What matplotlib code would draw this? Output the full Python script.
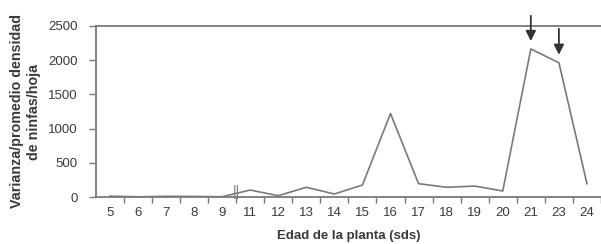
import numpy as np
import matplotlib
matplotlib.use("Agg")
import matplotlib.pyplot as plt

plt.rcParams['font.family'] = ['Liberation Sans', 'DejaVu Sans']

# edad de la planta (semanas despues de siembra) y varianza/promedio
edades = ['5', '6', '7', '8', '9', '11', '12', '13', '14', '15', '16',
          '17', '18', '19', '20', '21', '23', '24']
varianza = [12, 3, 10, 8, 4, 102, 19, 142, 44, 175, 1220,
            195, 142, 160, 88, 2164, 1963, 195]
flechas = ['21', '23']
flecha_inicio = [2690, 2500]

fig = plt.figure(figsize=(6.01, 2.44), dpi=100)
ax = fig.add_axes([95.8 / 601, 47 / 244, 1 - 95.8 / 601, 171 / 244])

x = np.arange(len(edades))
gris = '#7a7a7a'
ax.plot(x, varianza, color=gris, lw=1.2)

ax.set_ylim(0, 2500)
ax.set_xlim(-0.5, (601 - 110) / 28.41)
ax.set_yticks([0, 500, 1000, 1500, 2000, 2500])

# ticks entre categorias, etiquetas en el centro
ax.set_xticks(x + 0.5)
ax.set_xticklabels([])
ax.set_xticks(x, minor=True)
ax.set_xticklabels(edades, minor=True)
ax.tick_params(axis='x', which='major', length=4, width=1, color=gris)
ax.tick_params(axis='x', which='minor', length=0, pad=7, labelsize=9.5, labelcolor='#3a3a3a')
ax.tick_params(axis='y', length=5, width=1, color=gris, pad=8, labelsize=9.5, labelcolor='#3a3a3a')

for s in ['left', 'bottom', 'top']:
    ax.spines[s].set_color(gris)
    ax.spines[s].set_linewidth(1.3)
ax.spines['right'].set_visible(False)

# marca de corte entre 9 y 11
i9 = edades.index('9')
ax.text(i9 + 0.5, (varianza[i9] + varianza[i9 + 1]) / 2 + 15, '||', color=gris,
        ha='center', va='center', fontsize=10)

# flechas sobre los maximos
for e, y0 in zip(flechas, flecha_inicio):
    i = edades.index(e)
    ax.annotate('', xy=(i, varianza[i] + 75), xytext=(i, y0),
                arrowprops=dict(arrowstyle='-|>', mutation_scale=15, lw=1.3, color='#333333'),
                annotation_clip=False)

ax.set_ylabel('Varianza/promedio densidad\nde ninfas/hoja', fontsize=10.3,
              fontweight='bold', color='#3a3a3a', labelpad=5, linespacing=1.3)
ax.set_xlabel('Edad de la planta (sds)', fontsize=9.5, fontweight='bold',
              color='#3a3a3a', labelpad=8)

fig.savefig('out.png', dpi=100)
